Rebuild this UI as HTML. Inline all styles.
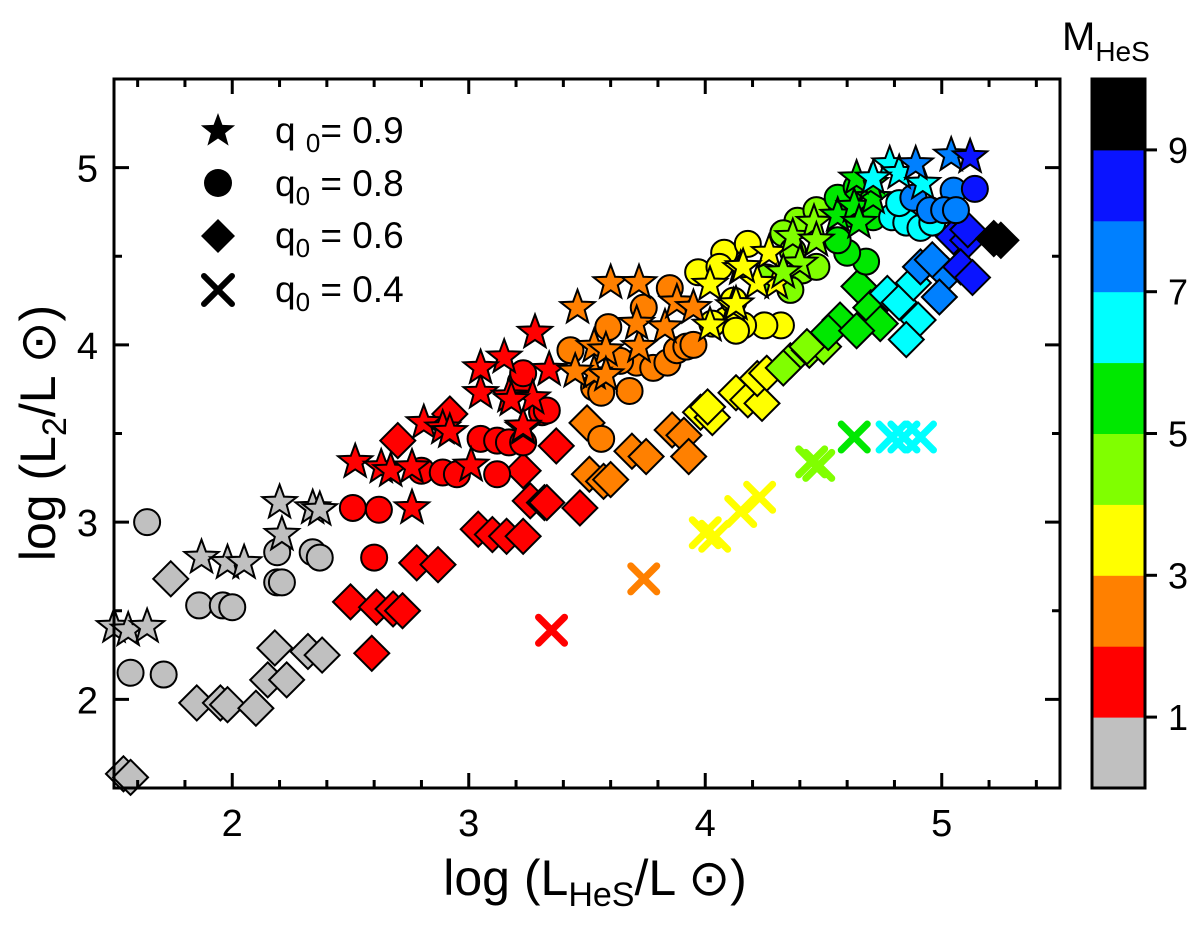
<!DOCTYPE html>
<html><head><meta charset="utf-8"><style>
body{margin:0;background:#fff;}
svg{display:block;font-family:"Liberation Sans",Arial,sans-serif;}
</style></head><body>
<svg id="chart" width="1200" height="931" viewBox="0 0 1200 931">
<g id="marks"></g>
<g id="axes"></g>
</svg>
<script>
// ---------- data ----------
// color class index: 0 gray(<1),1 red,2 orange,3 yellow,4 yellow-green,5 green,6 cyan,7 light blue,8 blue,9 black
const diamondX=[1.74,1.85,1.95,1.98,2.10,2.18,2.15,2.23,2.32,2.38,1.54,1.57,
 2.70,2.92,2.50,2.61,2.68,2.72,2.78,2.87,2.59,3.04,3.10,3.16,3.23,3.26,3.32,3.37,3.23,3.33,3.47,
 3.50,3.51,3.57,3.60,3.69,3.75,3.86,3.91,3.93,
 3.98,4.03,4.13,4.18,4.24,4.22,4.26,4.01,
 4.36,4.44,4.50,4.33,4.43,
 4.65,4.70,4.57,4.52,4.74,4.64,
 4.77,4.82,4.90,4.85,4.88,
 4.91,5.02,4.99,4.96,
 5.05,5.11,5.08,5.13,5.11,
 5.22,5.25];
const diamondY=[2.68,1.98,1.98,1.97,1.95,2.29,2.11,2.11,2.27,2.25,1.58,1.56,
 3.46,3.61,2.55,2.52,2.51,2.50,2.77,2.76,2.26,2.96,2.93,2.92,2.92,3.12,3.11,3.43,3.29,3.11,3.08,
 3.56,3.27,3.23,3.24,3.40,3.37,3.52,3.49,3.37,
 3.62,3.59,3.73,3.69,3.67,3.81,3.84,3.65,
 3.91,3.97,3.99,3.87,3.99,
 4.33,4.21,4.14,4.07,4.12,4.08,
 4.29,4.24,4.14,4.03,4.35,
 4.44,4.40,4.27,4.48,
 4.61,4.59,4.44,4.38,4.65,
 4.60,4.59];
const diamondC=[0,0,0,0,0,0,0,0,0,0,0,0,
 1,1,1,1,1,1,1,1,1,1,1,1,1,1,1,1,1,1,1,
 2,2,2,2,2,2,2,2,2,
 3,3,3,3,3,3,3,3,
 4,4,4,4,4,
 5,5,5,5,5,5,
 6,6,6,6,6,
 7,7,7,7,
 8,8,8,8,8,
 9,9];
const circleX=[1.64,1.57,1.71,1.86,1.96,2.00,2.19,2.21,2.19,2.34,2.37,
 2.51,2.62,2.60,3.05,3.12,3.17,3.23,2.80,2.89,2.95,3.12,3.31,3.22,3.23,3.33,
 3.85,3.74,3.59,3.43,3.53,3.56,3.68,3.71,3.78,3.84,3.88,3.92,3.95,3.56,3.64,
 3.97,4.08,4.32,4.25,4.16,4.09,4.03,4.12,4.18,4.06,4.13,
 4.39,4.47,4.33,4.41,4.36,4.26,4.37,4.47,
 4.56,4.61,4.68,4.60,4.56,4.71,4.64,
 4.79,4.85,4.91,4.96,4.82,
 4.88,4.95,5.05,5.01,5.06,
 5.14];
const circleY=[3.00,2.15,2.14,2.53,2.53,2.52,2.66,2.66,2.83,2.83,2.80,
 3.08,3.07,2.80,3.47,3.46,3.45,3.45,3.29,3.28,3.27,3.27,3.62,3.79,3.84,3.63,
 4.32,4.21,4.10,3.97,3.76,3.73,3.74,3.90,3.87,3.90,3.97,3.99,4.00,3.47,3.91,
 4.41,4.52,4.11,4.11,4.11,4.14,4.12,4.25,4.57,4.44,4.08,
 4.70,4.76,4.63,4.42,4.31,4.38,4.53,4.44,
 4.83,4.74,4.47,4.52,4.59,4.72,4.89,
 4.72,4.69,4.66,4.69,4.80,
 4.83,4.76,4.87,4.76,4.76,
 4.88];
const circleC=[0,0,0,0,0,0,0,0,0,0,0,
 1,1,1,1,1,1,1,1,1,1,1,1,1,1,1,
 2,2,2,2,2,2,2,2,2,2,2,2,2,2,2,
 3,3,3,3,3,3,3,3,3,3,3,
 4,4,4,4,4,4,4,4,
 5,5,5,5,5,5,5,
 6,6,6,6,6,
 7,7,7,7,7,
 8];
const starX=[1.50,1.56,1.64,1.87,1.98,2.05,2.20,2.21,2.34,2.37,
 2.52,2.63,2.67,2.76,3.01,2.76,2.81,2.89,2.92,3.23,3.05,3.17,3.27,3.28,3.15,3.34,3.18,3.23,3.05,
 3.46,3.60,3.72,3.53,3.58,3.53,3.58,3.72,3.71,3.83,3.88,3.95,3.45,
 4.02,4.12,4.02,4.15,4.27,4.30,4.22,4.16,4.13,
 4.37,4.46,4.40,4.33,4.47,
 4.56,4.63,4.71,4.65,4.70,4.64,
 4.78,4.82,4.71,4.92,
 4.89,5.04,
 5.12];
const starY=[2.41,2.39,2.41,2.80,2.77,2.77,3.11,2.93,3.08,3.07,
 3.34,3.31,3.29,3.31,3.32,3.08,3.56,3.53,3.51,3.53,3.73,3.71,3.70,4.07,3.93,3.86,3.69,3.54,3.87,
 4.21,4.35,4.35,3.99,3.97,3.84,3.83,3.99,4.12,4.10,4.24,4.21,3.85,
 4.34,4.22,4.11,4.43,4.52,4.35,4.35,4.44,4.23,
 4.61,4.69,4.46,4.41,4.59,
 4.73,4.78,4.83,4.69,4.91,4.94,
 5.02,4.97,4.94,4.91,
 5.02,5.07,
 5.06];
const starC=[0,0,0,0,0,0,0,0,0,0,
 1,1,1,1,1,1,1,1,1,1,1,1,1,1,1,1,1,1,1,
 2,2,2,2,2,2,2,2,2,2,2,2,2,
 3,3,3,3,3,3,3,3,3,
 4,4,4,4,4,
 5,5,5,5,5,5,
 6,6,6,6,
 7,7,
 8];
const crossX=[3.35,3.74,4.00,4.04,4.15,4.23,4.45,4.48,4.63,4.79,4.84,4.91];
const crossY=[2.39,2.68,2.94,2.92,3.06,3.14,3.34,3.32,3.48,3.48,3.48,3.48];
const crossC=[1,2,3,3,3,3,4,4,5,6,6,6];
const xTicks=[2,3,4,5];
const yTicks=[2,3,4,5];
const cbLabels=[1,3,5,7,9];
const palette=["#c0c0c0","#ff0000","#ff8000","#ffff00","#80ff00","#00e800","#00ffff","#0080ff","#0a14ff","#000000"];

// ---------- scales ----------
const L=114,R=1060,T=79,B=788;
const X0=1.5,X1=5.5,Y0=1.5,Y1=5.5;
const sx=v=>L+(v-X0)/(X1-X0)*(R-L);
const sy=v=>B-(v-Y0)/(Y1-Y0)*(B-T);
const NS="http://www.w3.org/2000/svg";
const marks=document.getElementById('marks');
const axes=document.getElementById('axes');
function mk(tag,attrs,parent){const e=document.createElementNS(NS,tag);for(const k in attrs)e.setAttribute(k,attrs[k]);parent.appendChild(e);return e;}

for(let i=0;i<diamondX.length;i++){
 const cx=sx(diamondX[i]),cy=sy(diamondY[i]),h=17.5;
 const e=mk('polygon',{points:`${cx},${cy-h} ${cx+h},${cy} ${cx},${cy+h} ${cx-h},${cy}`,fill:palette[diamondC[i]],stroke:'#000','stroke-width':2},marks);
 
 
}
for(let i=0;i<circleX.length;i++){
 const e=mk('circle',{cx:sx(circleX[i]),cy:sy(circleY[i]),r:13,fill:palette[circleC[i]],stroke:'#000','stroke-width':2},marks);
 
 
}
function starPts(cx,cy,ro,ri){let p=[];for(let k=0;k<10;k++){const a=-Math.PI/2+k*Math.PI/5,r=k%2?ri:ro;p.push((cx+r*Math.cos(a)).toFixed(1)+','+(cy+r*Math.sin(a)).toFixed(1));}return p.join(' ');}
for(let i=0;i<starX.length;i++){
 const e=mk('polygon',{points:starPts(sx(starX[i]),sy(starY[i]),18,7.5),fill:palette[starC[i]],stroke:'#000','stroke-width':2},marks);
 
 
}
for(let i=0;i<crossX.length;i++){
 const cx=sx(crossX[i]),cy=sy(crossY[i]),h=13;
 const e=mk('path',{d:`M${cx-h},${cy-h}L${cx+h},${cy+h}M${cx+h},${cy-h}L${cx-h},${cy+h}`,stroke:palette[crossC[i]],'stroke-width':7,'stroke-linecap':'round',fill:'none'},marks);
 
 
}

// ---------- axes ----------
const frame=mk('rect',{x:L,y:T,width:R-L,height:B-T,fill:'none',stroke:'#000','stroke-width':3},axes);


let tk='';
for(let v=1.6;v<5.45;v+=0.2){const x=sx(v);const maj=Math.abs(v-Math.round(v))<0.01;const len=maj?15:8;tk+=`M${x},${B}v${-len}M${x},${T}v${len}`;}
for(let v=2.0;v<5.45;v+=0.5){const y=sy(v);const maj=Math.abs(v-Math.round(v))<0.01;const len=maj?15:8;tk+=`M${L},${y}h${len}M${R},${y}h${-len}`;}
const ticks=mk('path',{d:tk,stroke:'#000','stroke-width':3,fill:'none'},axes);


xTicks.forEach(v=>{const t=mk('text',{x:sx(v),y:836,'font-size':38,'text-anchor':'middle'},axes);t.textContent=v;
 
 });
yTicks.forEach(v=>{const t=mk('text',{x:98,y:sy(v)+14,'font-size':38,'text-anchor':'end'},axes);t.textContent=v;
 
 });

const CL=1092,CR=1145;
for(let k=0;k<10;k++){
 const r=mk('rect',{x:CL,y:B-(k+1)*(B-T)/10,width:CR-CL,height:(B-T)/10+0.5,fill:palette[k]},axes);
 
 
}
const cbf=mk('rect',{x:CL,y:T,width:CR-CL,height:B-T,fill:'none',stroke:'#000','stroke-width':3},axes);


cbLabels.forEach(v=>{const y=B-v*(B-T)/10;
 const l=mk('line',{x1:CR,x2:CR+12,y1:y,y2:y,stroke:'#000','stroke-width':3},axes);
 
 
 const t=mk('text',{x:1168,y:y+13,'font-size':36},axes);t.textContent=v;
 
 });
</script>
<script>
const s=document.getElementById('chart');
s.insertAdjacentHTML('beforeend',`
<g font-size="37">
 <polygon points="${starPts(218,131,18,7.5)}" fill="#000"/>
 <text x="275" y="143">q <tspan font-size="26" dy="9">0</tspan><tspan dy="-9">= 0.9</tspan></text>
 <circle cx="218" cy="183" r="14" fill="#000"/>
 <text x="275" y="196">q<tspan font-size="26" dy="9">0</tspan><tspan dy="-9"> = 0.8</tspan></text>
 <polygon points="218,219 235,236 218,253 201,236" fill="#000"/>
 <text x="275" y="248">q<tspan font-size="26" dy="9">0</tspan><tspan dy="-9"> = 0.6</tspan></text>
 <path d="M204,276L232,304M232,276L204,304" stroke="#000" stroke-width="6" stroke-linecap="round"/>
 <text x="275" y="302">q<tspan font-size="26" dy="9">0</tspan><tspan dy="-9"> = 0.4</tspan></text>
</g>
<text x="595" y="895" font-size="50" text-anchor="middle">log (L<tspan font-size="34" dy="11">HeS</tspan><tspan dy="-11">/L ⊙)</tspan></text>
<text transform="translate(55,433) rotate(-90)" font-size="50" text-anchor="middle">log (L<tspan font-size="34" dy="11">2</tspan><tspan dy="-11">/L ⊙)</tspan></text>
<text x="1062" y="50" font-size="40">M<tspan font-size="28" dy="11">HeS</tspan></text>
`);
</script>
</body></html>
